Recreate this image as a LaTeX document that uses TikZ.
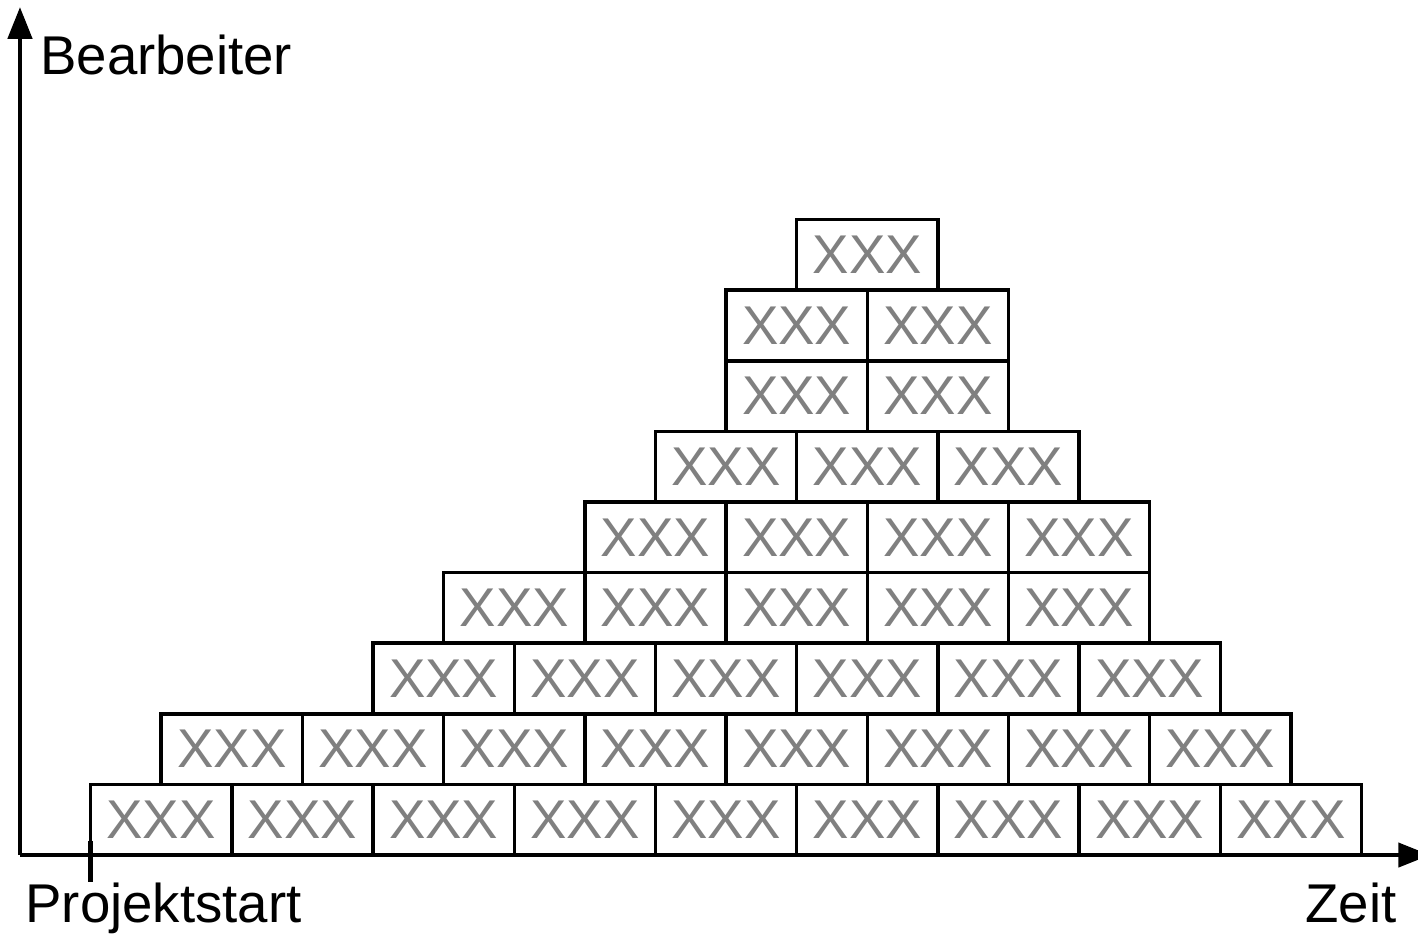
\documentclass[tikz,border=0pt]{standalone}
\usepackage{fontspec}
\setmainfont{Liberation Sans}
\usetikzlibrary{arrows.meta}
\tikzset{
  font=\fontsize{22}{26}\selectfont,
  >={Triangle[length=0.45cm,width=0.34cm]},
  axis/.style={draw=black, line width=1.8pt},
  brick/.style={draw=black, line width=1.4pt, fill=white, minimum width=2cm, minimum height=1cm, inner sep=0pt, text=black!50},
  lab/.style={inner sep=0pt, anchor=base west},
}
\begin{document}
\begin{tikzpicture}[x=1cm,y=1cm]
\useasboundingbox (-0.283,-1.133) rectangle (19.80,12.11);
% axes
\coordinate (o) at (0,0);
\coordinate (xend) at (19.97,0);
\coordinate (yend) at (0,12.01);
\draw[axis,->] (o) -- (xend);
\draw[axis,->] (o) -- (yend);
% bricks: row / first column / count
\foreach \r/\s/\n in {1/1/9,2/2/8,3/5/6,4/6/5,5/8/4,6/9/3,7/10/2,8/10/2,9/11/1}{
  \foreach \k in {1,...,\n}{
    \node[brick] (b\r-\k) at ({\s+2*\k-1},{\r-0.5}) {XXX};
  }
}
% project start tick
\coordinate (t0) at (1,0.2);
\coordinate (t1) at (1,-0.38);
\draw[axis] (t0) -- (t1);
\node[lab] (ylab) at (0.28,11.05) {Bearbeiter};
\node[lab] (plab) at (0.07,-0.96) {Projektstart};
\node[lab, anchor=base east] (xlab) at (19.5,-0.96) {Zeit};
\end{tikzpicture}
\end{document}
